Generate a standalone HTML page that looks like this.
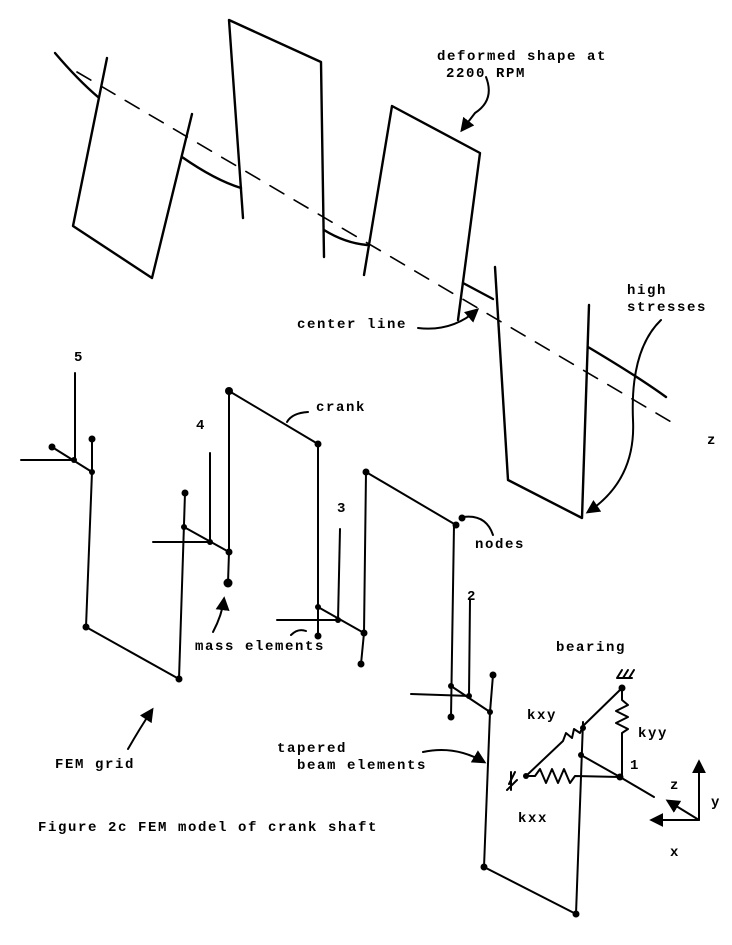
<!DOCTYPE html>
<html><head><meta charset="utf-8"><style>
html,body{margin:0;padding:0;background:#fff}
svg{display:block}
text{font-family:"Liberation Mono",monospace;font-size:14px;font-weight:bold;fill:#000;letter-spacing:1.6px}
</style></head><body>
<svg width="732" height="945" viewBox="0 0 732 945" xmlns="http://www.w3.org/2000/svg">
<defs>
<marker id="ah" viewBox="0 0 10 10" refX="8" refY="5" markerWidth="7" markerHeight="7" orient="auto"><path d="M0,0 L10,5 L0,10 z" fill="#000"/></marker>
</defs>
<g stroke="#000" fill="none" stroke-linecap="round" stroke-linejoin="round">
<line x1="77" y1="72" x2="673" y2="423" stroke-width="1.6" stroke-dasharray="16,12"/>
<g stroke-width="2.4">
<path d="M55,53 Q78,80 98,97"/>
<path d="M107,58 L73,226 L152,278 L192,114"/>
<path d="M182,157 Q215,180 241,188"/>
<path d="M243,218 L229,20 L321,62 L324,257"/>
<path d="M324,230 Q345,243 367,245"/>
<path d="M364,275 L392,106 L480,153 L458,320"/>
<path d="M463,283 L493,299"/>
<path d="M495,267 L508,480 L582,518 L589,305"/>
<path d="M588,347 Q640,378 666,397"/>
</g>
<g stroke-width="2">
<path d="M486,77 Q495,100 475,113 L462,130" marker-end="url(#ah)"/>
<path d="M418,328 Q452,332 477,310" marker-end="url(#ah)"/>
<path d="M661,320 Q630,350 633,420 Q636,480 588,512" marker-end="url(#ah)"/>
<path d="M308,412 Q292,413 287,422"/>
<path d="M75,373 L75,459"/>
<path d="M21,460 L74,460"/>
<path d="M52,447 L92,472"/>
<path d="M92,439 L92,472 L86,627 L179,679 L185,493"/>
<path d="M184,527 L229,552"/>
<path d="M153,542 L210,542"/>
<path d="M210,453 L210,542"/>
<path d="M229,552 L228,583"/>
<path d="M229,552 L229,391 L318,444 L318,636"/>
<path d="M318,607 L364,633"/>
<path d="M277,620 L338,620"/>
<path d="M340,529 L338,620"/>
<path d="M364,633 L361,664"/>
<path d="M364,633 L366,472 L456,525"/>
<path d="M463,517 Q486,514 493,535"/>
<path d="M454,525 L451,717"/>
<path d="M451,686 L490,712"/>
<path d="M411,694 L470,696"/>
<path d="M470,600 L469,696"/>
<path d="M493,675 L490,712 L484,867 L576,914 L583,722"/>
<path d="M581,755 L620,777 L654,797"/>
<path d="M526,776 L535,776 L540,769 L546,783 L552,769 L558,783 L564,769 L570,783 L575,776 L620,777"/>
<path d="M622,688 L622,700 L628,705 L616,711 L628,717 L616,723 L628,729 L622,733 L622,777"/>
<path d="M526,776 L563,741 L566,733 L572,738 L574,729 L580,733 L583,726 L622,688"/>
<path d="M617,678 L622,670 M623,678 L628,670 M629,678 L634,670 M617,678 L632,678"/>
<path d="M509,784 L515,772 M507,790 L517,780 M511,772 L511,790"/>
<path d="M699,820 L699,762" marker-end="url(#ah)"/>
<path d="M699,820 L652,820" marker-end="url(#ah)"/>
<path d="M699,820 L668,801" marker-end="url(#ah)"/>
<path d="M213,632 Q222,615 224,599" marker-end="url(#ah)"/>
<path d="M291,635 Q298,628 306,631"/>
<path d="M128,749 Q140,728 152,710" marker-end="url(#ah)"/>
<path d="M423,752 Q455,745 484,762" marker-end="url(#ah)"/>
</g>
</g>
<g fill="#000">
<circle cx="52" cy="447" r="3.5"/><circle cx="74" cy="460" r="3"/><circle cx="92" cy="439" r="3.5"/><circle cx="92" cy="472" r="3"/>
<circle cx="86" cy="627" r="3.5"/><circle cx="179" cy="679" r="3.5"/><circle cx="185" cy="493" r="3.5"/><circle cx="184" cy="527" r="3"/>
<circle cx="210" cy="542" r="3"/><circle cx="229" cy="552" r="3.5"/><circle cx="228" cy="583" r="4.5"/><circle cx="229" cy="391" r="4"/>
<circle cx="318" cy="444" r="3.5"/><circle cx="318" cy="607" r="3"/><circle cx="338" cy="620" r="3"/><circle cx="364" cy="633" r="3.5"/>
<circle cx="318" cy="636" r="3.5"/><circle cx="361" cy="664" r="3.5"/><circle cx="366" cy="472" r="3.5"/><circle cx="456" cy="525" r="3.5"/>
<circle cx="462" cy="518" r="3.5"/><circle cx="451" cy="686" r="3"/><circle cx="451" cy="717" r="3.5"/><circle cx="469" cy="696" r="3"/>
<circle cx="490" cy="712" r="3"/><circle cx="493" cy="675" r="3.5"/><circle cx="484" cy="867" r="3.5"/><circle cx="576" cy="914" r="3.5"/>
<circle cx="581" cy="755" r="3"/><circle cx="620" cy="777" r="3.5"/><circle cx="622" cy="688" r="3.5"/><circle cx="526" cy="776" r="3"/><circle cx="583" cy="728" r="3"/>
</g>
<text x="437" y="60">deformed shape at</text>
<text x="446" y="77">2200 RPM</text>
<text x="297" y="328">center line</text>
<text x="627" y="294">high</text>
<text x="627" y="311">stresses</text>
<text x="707" y="444">z</text>
<text x="74" y="361">5</text>
<text x="196" y="429">4</text>
<text x="337" y="512">3</text>
<text x="467" y="600">2</text>
<text x="316" y="411">crank</text>
<text x="475" y="548">nodes</text>
<text x="195" y="650">mass elements</text>
<text x="556" y="651">bearing</text>
<text x="527" y="719">kxy</text>
<text x="638" y="737">kyy</text>
<text x="630" y="769">1</text>
<text x="518" y="822">kxx</text>
<text x="670" y="789">z</text>
<text x="711" y="806">y</text>
<text x="670" y="856">x</text>
<text x="55" y="768">FEM grid</text>
<text x="277" y="752">tapered</text>
<text x="297" y="769">beam elements</text>
<text x="38" y="831">Figure 2c FEM model of crank shaft</text>
</svg>
</body></html>
